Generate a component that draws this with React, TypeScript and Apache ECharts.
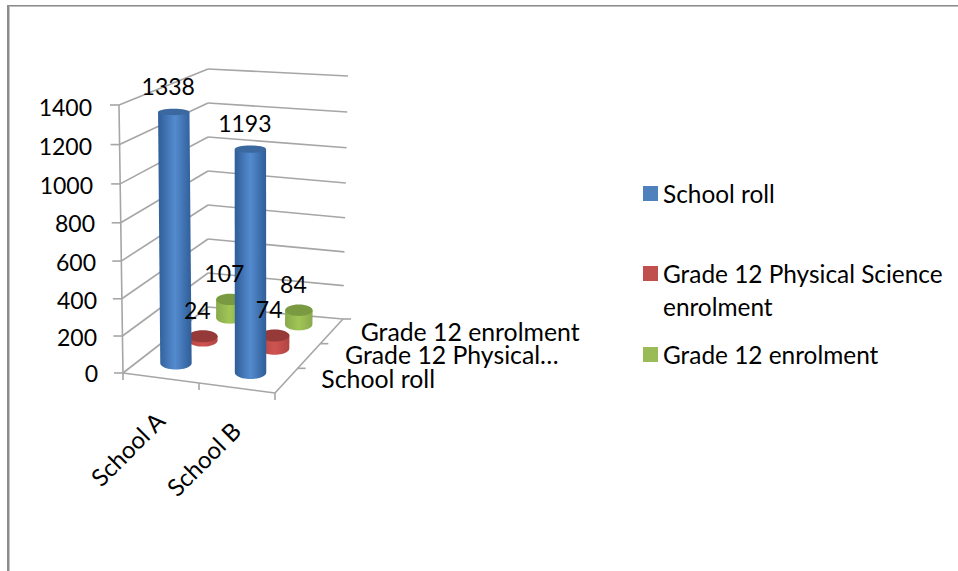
import React, { useEffect, useRef } from "react";
import * as echarts from "echarts";

const categories = ["School A", "School B"];
const seriesNames = ["School roll", "Grade 12 Physical Science enrolment", "Grade 12 enrolment"];
const schoolRoll = [1338, 1193];
const physicalScience = [24, 74];
const grade12 = [107, 84];
const yTicks = [0, 200, 400, 600, 800, 1000, 1200, 1400];
const depthLabels = ["School roll", "Grade 12 Physical…", "Grade 12 enrolment"];

const FONT = "Lato, 'Noto Sans', sans-serif";
const FS = 24;
const FS_NUM = 23;
const FS_LEGEND = 24.4;
const FS_DEPTH = 24.8;
const LINE = "#a6a6a6";
const GRID = { left: 123, top: 105, width: 152, height: 268 };
const CORNERS = {
  fl: [123, 373, 268, -4],
  fr: [275, 393, 268, 0],
  bl: [208, 307, 238, 0],
  br: [343, 319, 243, 5],
};
const depthLabelDx = [35, 36, 29];
const depthLabelDy = [-2, -2, 0];
const yLabelPadRight: Record<number, number> = { 0: 0, 200: 1, 400: 1, 600: 2, 800: 3, 1000: 5, 1200: 6, 1400: 6 };
const yLabelPadTop: Record<number, number> = { 0: 0, 200: 4, 400: 7, 600: 7, 800: 6, 1000: 7, 1200: 5, 1400: 4 };

const palette = [
  { legend: "#4f81bd", edge: "#2f5d97", mid: "#548bcf", top: "#3b689f" },
  { legend: "#c0504d", edge: "#b04542", mid: "#cf5451", top: "#953a38" },
  { legend: "#9bbb59", edge: "#8aa94c", mid: "#a0c656", top: "#7a9a42" },
];

function project(u: number, d: number, t: number): [number, number] {
  const mix = (i: number) =>
    (CORNERS.fl[i] * (1 - u) + CORNERS.fr[i] * u) * (1 - d) +
    (CORNERS.bl[i] * (1 - u) + CORNERS.br[i] * u) * d;
  const bulge = 3 * (1 - d * (1 - u));
  return [mix(0) + mix(3) * t, mix(1) - mix(2) * t + bulge * Math.sin(Math.PI * t)];
}

function norm(api: any, cat: number, value: number) {
  const p = api.coord([cat, value]);
  const cw = GRID.width;
  return { u: (p[0] - GRID.left) / cw, t: (GRID.top + GRID.height - p[1]) / GRID.height };
}

const line = (a: number[], b: number[], z2 = 1, width = 1.6) => ({
  type: "line",
  z2,
  shape: { x1: a[0], y1: a[1], x2: b[0], y2: b[1] },
  style: { stroke: LINE, lineWidth: width },
});

const txt = (text: string, x: number, y: number, extra: any = {}) => ({
  type: "text",
  z2: 100,
  x,
  y,
  rotation: extra.rotation || 0,
  style: {
    text,
    x: 0,
    y: 0,
    fill: "#000",
    font: `${extra.size || FS}px ${FONT}`,
    align: extra.align || "center",
    verticalAlign: "middle",
  },
});

function cylinderSeries(idx: number, values: number[]) {
  const d = (idx + 0.5) / 3;
  const col = palette[idx];
  return {
    type: "custom",
    name: seriesNames[idx],
    coordinateSystem: "cartesian2d",
    itemStyle: { color: col.legend },
    data: values.map((v, i) => [i, v]),
    renderItem: (_p: any, api: any) => {
      const cat = api.value(0);
      const v = api.value(1);
      const { u, t } = norm(api, cat, v);
      const b = project(u, d, 0);
      const a = project(u, d, t);
      const bx = b[0] + 1.5;
      const by = b[1] - 3.5;
      const tx = a[0] + 1.5;
      const ty = a[1] - 3.5;
      const w = 16.2 - 3 * d;
      const ryOf = (y: number) => 3 + ((y - 100) / 270) * 3.5;
      const rt = ryOf(ty);
      const rb = ryOf(by);
      const z = 30 - idx * 10;
      const outline: number[][] = [[tx - w, ty]];
      for (let k = 0; k <= 24; k++) {
        const ang = Math.PI - (Math.PI * k) / 24;
        outline.push([bx + w * Math.cos(ang), by + rb * Math.sin(ang)]);
      }
      outline.push([tx + w, ty]);
      return {
        type: "group",
        children: [
          {
            type: "polygon",
            z2: z,
            shape: { points: outline },
            style: {
              fill: new echarts.graphic.LinearGradient(0, 0, 1, 0, [
                { offset: 0, color: col.edge },
                { offset: 0.5, color: col.mid },
                { offset: 1, color: col.edge },
              ]),
            },
          },
          {
            type: "ellipse",
            z2: z + 1,
            shape: { cx: tx, cy: ty, rx: w, ry: rt },
            style: { fill: col.top },
          },
          txt(String(v), tx - 5.5, ty - 26, { size: FS_NUM }),
        ],
      };
    },
  };
}

const frameSeries = {
  type: "custom",
  name: "frame",
  coordinateSystem: "cartesian2d",
  data: yTicks.map((v) => [0, v]),
  renderItem: (p: any, api: any) => {
    const { t } = norm(api, 0, api.value(1));
    const a = project(0, 0, t);
    const b = project(0, 1, t);
    const c = project(1, 1, t);
    const children: any[] = [line([a[0] - 9, a[1]], a), line(a, b), line(b, c)];
    if (p.dataIndex === 0) {
      children.push(line(project(0, 0, 0), project(0, 0, 1)));
      const fr = project(1, 0, 0);
      children.push(line(project(0, 0, 0), fr));
      children.push(line(fr, project(1, 1, 0)));
      [0, 0.5, 1].forEach((u) => {
        const q = project(u, 0, 0);
        children.push(line(q, [q[0], q[1] + 7]));
      });
      [1, 2, 3].forEach((k) => {
        const q = project(1, k / 3, 0);
        children.push(line(q, [q[0] + 8, q[1]]));
      });
    }
    return { type: "group", children };
  },
};

const categoryLabelSeries = {
  type: "custom",
  name: "categoryLabels",
  coordinateSystem: "cartesian2d",
  data: categories.map((_c, i) => [i, 0]),
  renderItem: (_p: any, api: any) => {
    const cat = api.value(0);
    const { u } = norm(api, cat, 0);
    const q = project(u, 0, 0);
    return txt(categories[cat], q[0] - 1, q[1] + 38, { rotation: Math.PI / 4, align: "right" });
  },
};

const depthLabelSeries = {
  type: "custom",
  name: "depthLabels",
  coordinateSystem: "cartesian2d",
  data: depthLabels.map((_c, i) => [0, i]),
  renderItem: (p: any) => {
    const i = p.dataIndex;
    const q = project(1, (i + 0.5) / 3, 0);
    return txt(depthLabels[i], q[0] + depthLabelDx[i], q[1] + depthLabelDy[i], {
      align: "left",
      size: FS_DEPTH,
    });
  },
};

const richY: Record<string, any> = {};
yTicks.forEach((v) => {
  richY[`t${v}`] = {
    fontFamily: FONT,
    fontSize: FS_NUM,
    color: "#000",
    padding: [yLabelPadTop[v], yLabelPadRight[v], 0, 0],
  };
});

const legendTops = [177, 224, 338];

export default function App() {
  const ref = useRef<HTMLDivElement>(null);
  useEffect(() => {
    const chart = echarts.init(ref.current!, null, { renderer: "svg" });
    chart.setOption({
      animation: false,
      backgroundColor: "#fff",
      grid: { ...GRID, containLabel: false },
      xAxis: { type: "category", data: categories, show: false },
      yAxis: {
        type: "value",
        min: 0,
        max: 1400,
        interval: 200,
        axisLine: { show: false },
        axisTick: { show: false },
        splitLine: { show: false },
        axisLabel: {
          margin: 25,
          formatter: (v: number) => `{t${v}|${v}}`,
          rich: richY,
        },
      },
      legend: seriesNames.map((name, i) => ({
        data: [name],
        orient: "vertical",
        left: 643,
        top: legendTops[i],
        padding: 0,
        itemWidth: 15,
        itemHeight: 15,
        icon: "rect",
        selectedMode: false,
        textStyle: { fontFamily: FONT, fontSize: FS_LEGEND, color: "#000", lineHeight: 33 },
        formatter: (n: string) =>
          n.includes("Physical") ? "\u00a0\nGrade 12 Physical Science\nenrolment" : n,
      })),
      graphic: [
        { type: "rect", shape: { x: 7, y: 5, width: 2, height: 566 }, style: { fill: "#8c8c8c" } },
        { type: "rect", shape: { x: 9, y: 6, width: 1, height: 565 }, style: { fill: "#c4c4c4" } },
        { type: "rect", shape: { x: 7, y: 5, width: 951, height: 1 }, style: { fill: "#8c8c8c" } },
        { type: "rect", shape: { x: 9, y: 6, width: 949, height: 1 }, style: { fill: "#bdbdbd" } },
      ],
      series: [
        frameSeries,
        cylinderSeries(0, schoolRoll),
        cylinderSeries(1, physicalScience),
        cylinderSeries(2, grade12),
        categoryLabelSeries,
        depthLabelSeries,
      ],
    });
    return () => chart.dispose();
  }, []);
  return (
    <div
      ref={ref}
      style={{ position: "absolute", left: 0, top: 0, width: 958, height: 571 }}
    />
  );
}
